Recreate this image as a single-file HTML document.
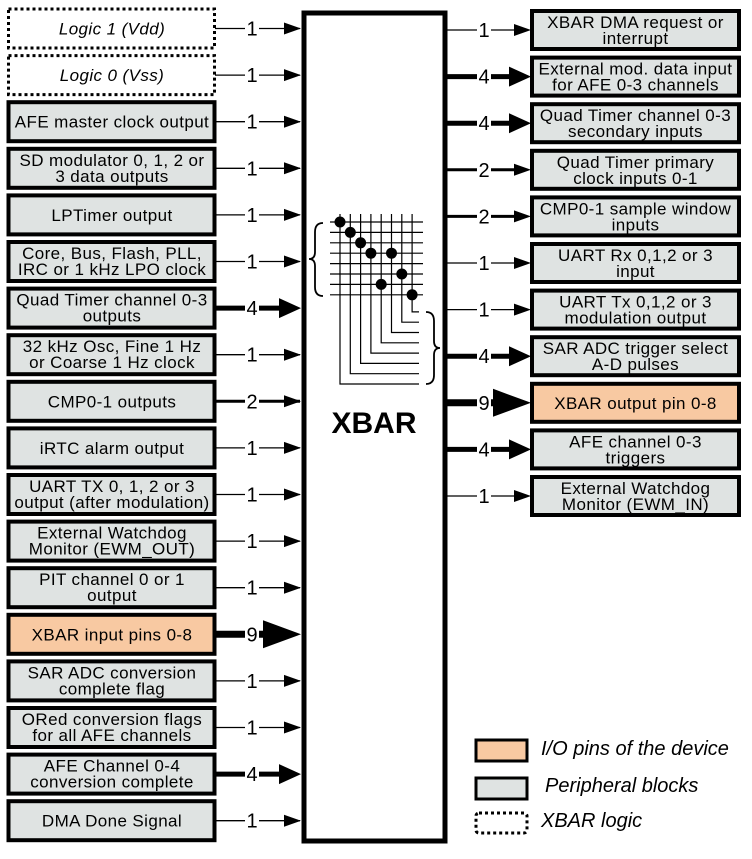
<!DOCTYPE html>
<html><head><meta charset="utf-8"><style>
html,body{margin:0;padding:0;background:#fff;}
svg{display:block;}
text{font-family:"Liberation Sans",Arial,sans-serif;font-size:17px;letter-spacing:0.4px;fill:#000;}
.lbl{font-size:20px;letter-spacing:0;}
</style></head><body>
<svg width="752" height="859" viewBox="0 0 752 859" xmlns="http://www.w3.org/2000/svg">
<defs>
<g id="ah1"><polygon points="-17,-6 0,0 -17,6" fill="#000"/></g>
<g id="ah4"><polygon points="-22,-10 0,0 -22,10" fill="#000"/></g>
<g id="ah9"><polygon points="-38,-14 0,0 -38,14" fill="#000"/></g>
</defs>

<rect x="304" y="13" width="141" height="828" fill="#fff" stroke="#000" stroke-width="5"/>
<text x="374" y="433" text-anchor="middle" style="font-size:30px;font-weight:bold;letter-spacing:0">XBAR</text>

<g stroke="#000">
<rect x="8.5" y="9" width="206" height="39" fill="#fff" stroke-width="3" stroke-dasharray="3,3"/>
<rect x="8.5" y="55.6" width="206" height="39" fill="#fff" stroke-width="3" stroke-dasharray="3,3"/>
<rect x="8.5" y="102.2" width="206" height="39" fill="#dfe3e2" stroke-width="4"/>
<rect x="8.5" y="148.8" width="206" height="39" fill="#dfe3e2" stroke-width="4"/>
<rect x="8.5" y="195.4" width="206" height="39" fill="#dfe3e2" stroke-width="4"/>
<rect x="8.5" y="242" width="206" height="39" fill="#dfe3e2" stroke-width="4"/>
<rect x="8.5" y="288.6" width="206" height="39" fill="#dfe3e2" stroke-width="4"/>
<rect x="8.5" y="335.2" width="206" height="39" fill="#dfe3e2" stroke-width="4"/>
<rect x="8.5" y="381.8" width="206" height="39" fill="#dfe3e2" stroke-width="4"/>
<rect x="8.5" y="428.4" width="206" height="39" fill="#dfe3e2" stroke-width="4"/>
<rect x="8.5" y="475" width="206" height="39" fill="#dfe3e2" stroke-width="4"/>
<rect x="8.5" y="521.6" width="206" height="39" fill="#dfe3e2" stroke-width="4"/>
<rect x="8.5" y="568.2" width="206" height="39" fill="#dfe3e2" stroke-width="4"/>
<rect x="8.5" y="614.8" width="206" height="39" fill="#f8c9a2" stroke-width="4"/>
<rect x="8.5" y="661.4" width="206" height="39" fill="#dfe3e2" stroke-width="4"/>
<rect x="8.5" y="708" width="206" height="39" fill="#dfe3e2" stroke-width="4"/>
<rect x="8.5" y="754.6" width="206" height="39" fill="#dfe3e2" stroke-width="4"/>
<rect x="8.5" y="801.2" width="206" height="39" fill="#dfe3e2" stroke-width="4"/>
</g>
<g text-anchor="middle">
<text x="112" y="34.5" font-style="italic">Logic 1 (Vdd)</text>
<text x="112" y="81" font-style="italic">Logic 0 (Vss)</text>
<text x="112" y="127.7">AFE master clock output</text>
<text x="112" y="166">SD modulator 0, 1, 2 or</text><text x="112" y="182">3 data outputs</text>
<text x="112" y="221">LPTimer output</text>
<text x="112" y="259">Core, Bus, Flash, PLL,</text><text x="112" y="275">IRC or 1 kHz LPO clock</text>
<text x="112" y="305.6">Quad Timer channel 0-3</text><text x="112" y="321.6">outputs</text>
<text x="112" y="352.2">32 kHz Osc, Fine 1 Hz</text><text x="112" y="368.2">or Coarse 1 Hz clock</text>
<text x="112" y="407.3">CMP0-1 outputs</text>
<text x="112" y="454">iRTC alarm output</text>
<text x="112" y="492">UART TX 0, 1, 2 or 3</text><text x="112" y="508">output (after modulation)</text>
<text x="112" y="538.6">External Watchdog</text><text x="112" y="554.6">Monitor (EWM_OUT)</text>
<text x="112" y="585.2">PIT channel 0 or 1</text><text x="112" y="601.2">output</text>
<text x="112" y="640.3">XBAR input pins 0-8</text>
<text x="112" y="678.4">SAR ADC conversion</text><text x="112" y="694.4">complete flag</text>
<text x="112" y="725">ORed conversion flags</text><text x="112" y="741">for all AFE channels</text>
<text x="112" y="771.6">AFE Channel 0-4</text><text x="112" y="787.6">conversion complete</text>
<text x="112" y="826.7">DMA Done Signal</text>
</g>

<g stroke="#000">
<line x1="215" y1="28.5" x2="300" y2="28.5" stroke-width="1.3"/>
<line x1="215" y1="75.1" x2="300" y2="75.1" stroke-width="1.3"/>
<line x1="215" y1="121.7" x2="300" y2="121.7" stroke-width="1.3"/>
<line x1="215" y1="168.3" x2="300" y2="168.3" stroke-width="1.3"/>
<line x1="215" y1="214.9" x2="300" y2="214.9" stroke-width="1.3"/>
<line x1="215" y1="261.5" x2="300" y2="261.5" stroke-width="1.3"/>
<line x1="215" y1="308.1" x2="290" y2="308.1" stroke-width="5"/>
<line x1="215" y1="354.7" x2="300" y2="354.7" stroke-width="1.3"/>
<line x1="215" y1="401.3" x2="300" y2="401.3" stroke-width="3"/>
<line x1="215" y1="447.9" x2="300" y2="447.9" stroke-width="1.3"/>
<line x1="215" y1="494.5" x2="300" y2="494.5" stroke-width="1.3"/>
<line x1="215" y1="541.1" x2="300" y2="541.1" stroke-width="1.3"/>
<line x1="215" y1="587.7" x2="300" y2="587.7" stroke-width="1.3"/>
<line x1="215" y1="634.3" x2="280" y2="634.3" stroke-width="7"/>
<line x1="215" y1="680.9" x2="300" y2="680.9" stroke-width="1.3"/>
<line x1="215" y1="727.5" x2="300" y2="727.5" stroke-width="1.3"/>
<line x1="215" y1="774.1" x2="290" y2="774.1" stroke-width="5"/>
<line x1="215" y1="820.7" x2="300" y2="820.7" stroke-width="1.3"/>
</g>
<use href="#ah1" x="301" y="28.5"/><use href="#ah1" x="301" y="75.1"/><use href="#ah1" x="301" y="121.7"/>
<use href="#ah1" x="301" y="168.3"/><use href="#ah1" x="301" y="214.9"/><use href="#ah1" x="301" y="261.5"/>
<use href="#ah4" x="301" y="308.1"/><use href="#ah1" x="301" y="354.7"/><use href="#ah1" x="301" y="401.3"/>
<use href="#ah1" x="301" y="447.9"/><use href="#ah1" x="301" y="494.5"/><use href="#ah1" x="301" y="541.1"/>
<use href="#ah1" x="301" y="587.7"/><use href="#ah9" x="301" y="634.3"/><use href="#ah1" x="301" y="680.9"/>
<use href="#ah1" x="301" y="727.5"/><use href="#ah4" x="301" y="774.1"/><use href="#ah1" x="301" y="820.7"/>
<g fill="#fff">
<rect x="245" y="18" width="14" height="20"/><rect x="245" y="65" width="14" height="20"/><rect x="245" y="111" width="14" height="20"/>
<rect x="245" y="158" width="14" height="20"/><rect x="245" y="204" width="14" height="20"/><rect x="245" y="251" width="14" height="20"/>
<rect x="245" y="298" width="14" height="20"/><rect x="245" y="344" width="14" height="20"/><rect x="245" y="391" width="14" height="20"/>
<rect x="245" y="437" width="14" height="20"/><rect x="245" y="484" width="14" height="20"/><rect x="245" y="531" width="14" height="20"/>
<rect x="245" y="577" width="14" height="20"/><rect x="245" y="624" width="14" height="20"/><rect x="245" y="670" width="14" height="20"/>
<rect x="245" y="717" width="14" height="20"/><rect x="245" y="764" width="14" height="20"/><rect x="245" y="810" width="14" height="20"/>
</g>
<g text-anchor="middle">
<text class="lbl" x="252" y="35.5">1</text><text class="lbl" x="252" y="82.1">1</text><text class="lbl" x="252" y="128.7">1</text>
<text class="lbl" x="252" y="175.3">1</text><text class="lbl" x="252" y="221.9">1</text><text class="lbl" x="252" y="268.5">1</text>
<text class="lbl" x="252" y="315.1">4</text><text class="lbl" x="252" y="361.7">1</text><text class="lbl" x="252" y="408.3">2</text>
<text class="lbl" x="252" y="454.9">1</text><text class="lbl" x="252" y="501.5">1</text><text class="lbl" x="252" y="548.1">1</text>
<text class="lbl" x="252" y="594.7">1</text><text class="lbl" x="252" y="641.3">9</text><text class="lbl" x="252" y="687.9">1</text>
<text class="lbl" x="252" y="734.5">1</text><text class="lbl" x="252" y="781.1">4</text><text class="lbl" x="252" y="827.7">1</text>
</g>

<g stroke="#000" stroke-width="4">
<rect x="532" y="11" width="207" height="38" fill="#dfe3e2"/>
<rect x="532" y="57.6" width="207" height="38" fill="#dfe3e2"/>
<rect x="532" y="104.2" width="207" height="38" fill="#dfe3e2"/>
<rect x="532" y="150.8" width="207" height="38" fill="#dfe3e2"/>
<rect x="532" y="197.4" width="207" height="38" fill="#dfe3e2"/>
<rect x="532" y="244" width="207" height="38" fill="#dfe3e2"/>
<rect x="532" y="290.6" width="207" height="38" fill="#dfe3e2"/>
<rect x="532" y="337.2" width="207" height="38" fill="#dfe3e2"/>
<rect x="532" y="383.8" width="207" height="38" fill="#f8c9a2"/>
<rect x="532" y="430.4" width="207" height="38" fill="#dfe3e2"/>
<rect x="532" y="477" width="207" height="38" fill="#dfe3e2"/>
</g>
<g text-anchor="middle">
<text x="635.5" y="28">XBAR DMA request or</text><text x="635.5" y="44">interrupt</text>
<text x="635.5" y="74.6">External mod. data input</text><text x="635.5" y="90.6">for AFE 0-3 channels</text>
<text x="635.5" y="121.2">Quad Timer channel 0-3</text><text x="635.5" y="137.2">secondary inputs</text>
<text x="635.5" y="167.8">Quad Timer primary</text><text x="635.5" y="183.8">clock inputs 0-1</text>
<text x="635.5" y="214.4">CMP0-1 sample window</text><text x="635.5" y="230.4">inputs</text>
<text x="635.5" y="261">UART Rx 0,1,2 or 3</text><text x="635.5" y="277">input</text>
<text x="635.5" y="307.6">UART Tx 0,1,2 or 3</text><text x="635.5" y="323.6">modulation output</text>
<text x="635.5" y="354.2">SAR ADC trigger select</text><text x="635.5" y="370.2">A-D pulses</text>
<text x="635.5" y="408.8">XBAR output pin 0-8</text>
<text x="635.5" y="447.4">AFE channel 0-3</text><text x="635.5" y="463.4">triggers</text>
<text x="635.5" y="494">External Watchdog</text><text x="635.5" y="510">Monitor (EWM_IN)</text>
</g>

<g stroke="#000">
<line x1="447" y1="30" x2="525" y2="30" stroke-width="1.3"/>
<line x1="447" y1="76.6" x2="515" y2="76.6" stroke-width="5"/>
<line x1="447" y1="123.2" x2="515" y2="123.2" stroke-width="5"/>
<line x1="447" y1="169.8" x2="525" y2="169.8" stroke-width="3"/>
<line x1="447" y1="216.4" x2="525" y2="216.4" stroke-width="3"/>
<line x1="447" y1="263" x2="525" y2="263" stroke-width="1.3"/>
<line x1="447" y1="309.6" x2="525" y2="309.6" stroke-width="1.3"/>
<line x1="447" y1="356.2" x2="515" y2="356.2" stroke-width="5"/>
<line x1="444" y1="402.8" x2="500" y2="402.8" stroke-width="7"/>
<line x1="447" y1="449.4" x2="515" y2="449.4" stroke-width="5"/>
<line x1="447" y1="496" x2="525" y2="496" stroke-width="1.3"/>
</g>
<use href="#ah1" x="531" y="30"/><use href="#ah4" x="531" y="76.6"/><use href="#ah4" x="531" y="123.2"/>
<use href="#ah1" x="531" y="169.8"/><use href="#ah1" x="531" y="216.4"/><use href="#ah1" x="531" y="263"/>
<use href="#ah1" x="531" y="309.6"/><use href="#ah4" x="531" y="356.2"/><use href="#ah9" x="531" y="402.8"/>
<use href="#ah4" x="531" y="449.4"/><use href="#ah1" x="531" y="496"/>
<g fill="#fff">
<rect x="477" y="20" width="14" height="20"/><rect x="477" y="66" width="14" height="20"/><rect x="477" y="113" width="14" height="20"/>
<rect x="477" y="160" width="14" height="20"/><rect x="477" y="206" width="14" height="20"/><rect x="477" y="253" width="14" height="20"/>
<rect x="477" y="300" width="14" height="20"/><rect x="477" y="346" width="14" height="20"/><rect x="477" y="393" width="14" height="20"/>
<rect x="477" y="439" width="14" height="20"/><rect x="477" y="486" width="14" height="20"/>
</g>
<g text-anchor="middle">
<text class="lbl" x="484" y="37">1</text><text class="lbl" x="484" y="83.6">4</text><text class="lbl" x="484" y="130.2">4</text>
<text class="lbl" x="484" y="176.8">2</text><text class="lbl" x="484" y="223.4">2</text><text class="lbl" x="484" y="270">1</text>
<text class="lbl" x="484" y="316.6">1</text><text class="lbl" x="484" y="363.2">4</text><text class="lbl" x="484" y="409.8">9</text>
<text class="lbl" x="484" y="456.4">4</text><text class="lbl" x="484" y="503">1</text>
</g>

<g stroke="#000" stroke-width="1.2" fill="none">
<line x1="330" y1="222" x2="423" y2="222"/><line x1="330" y1="232.4" x2="423" y2="232.4"/>
<line x1="330" y1="242.8" x2="423" y2="242.8"/><line x1="330" y1="253.2" x2="423" y2="253.2"/>
<line x1="330" y1="263.6" x2="423" y2="263.6"/><line x1="330" y1="274" x2="423" y2="274"/>
<line x1="330" y1="284.4" x2="423" y2="284.4"/><line x1="330" y1="294.8" x2="423" y2="294.8"/>
<polyline points="340,214 340,384 419,384"/>
<polyline points="350.3,214 350.3,373.7 419,373.7"/>
<polyline points="360.6,214 360.6,363.4 419,363.4"/>
<polyline points="370.9,214 370.9,353.1 419,353.1"/>
<polyline points="381.2,214 381.2,342.8 419,342.8"/>
<polyline points="391.5,214 391.5,332.5 419,332.5"/>
<polyline points="401.8,214 401.8,322.2 419,322.2"/>
<polyline points="412.1,214 412.1,311.9 419,311.9"/>
<path d="M323,223 Q315,223 315,232 L315,252 Q315,259 309,259 Q315,259 315,266 L315,287 Q315,296 323,296" stroke-width="1.8"/>
<path d="M426,312 Q434,312 434,321 L434,341 Q434,348 440,348 Q434,348 434,355 L434,375 Q434,384 426,384" stroke-width="1.8"/>
</g>
<g fill="#000">
<circle cx="340" cy="222" r="5.5"/><circle cx="350.3" cy="232.4" r="5.5"/><circle cx="360.6" cy="242.8" r="5.5"/>
<circle cx="370.9" cy="253.2" r="5.5"/><circle cx="391.5" cy="253.2" r="5.5"/><circle cx="401.8" cy="274" r="5.5"/>
<circle cx="381.2" cy="284.4" r="5.5"/><circle cx="412.1" cy="294.8" r="5.5"/>
</g>

<rect x="476" y="740" width="51" height="21" fill="#f8c9a2" stroke="#000" stroke-width="3"/>
<rect x="476" y="778" width="51" height="21" fill="#dfe3e2" stroke="#000" stroke-width="3"/>
<rect x="476" y="813" width="51" height="20" rx="3" fill="#fff" stroke="#000" stroke-width="3" stroke-dasharray="3,3"/>
<text x="541" y="755" font-style="italic" style="font-size:20px;letter-spacing:0">I/O pins of the device</text>
<text x="545" y="792" font-style="italic" style="font-size:20px;letter-spacing:0">Peripheral blocks</text>
<text x="541" y="827" font-style="italic" style="font-size:20px;letter-spacing:0">XBAR logic</text>
</svg>
</body></html>
